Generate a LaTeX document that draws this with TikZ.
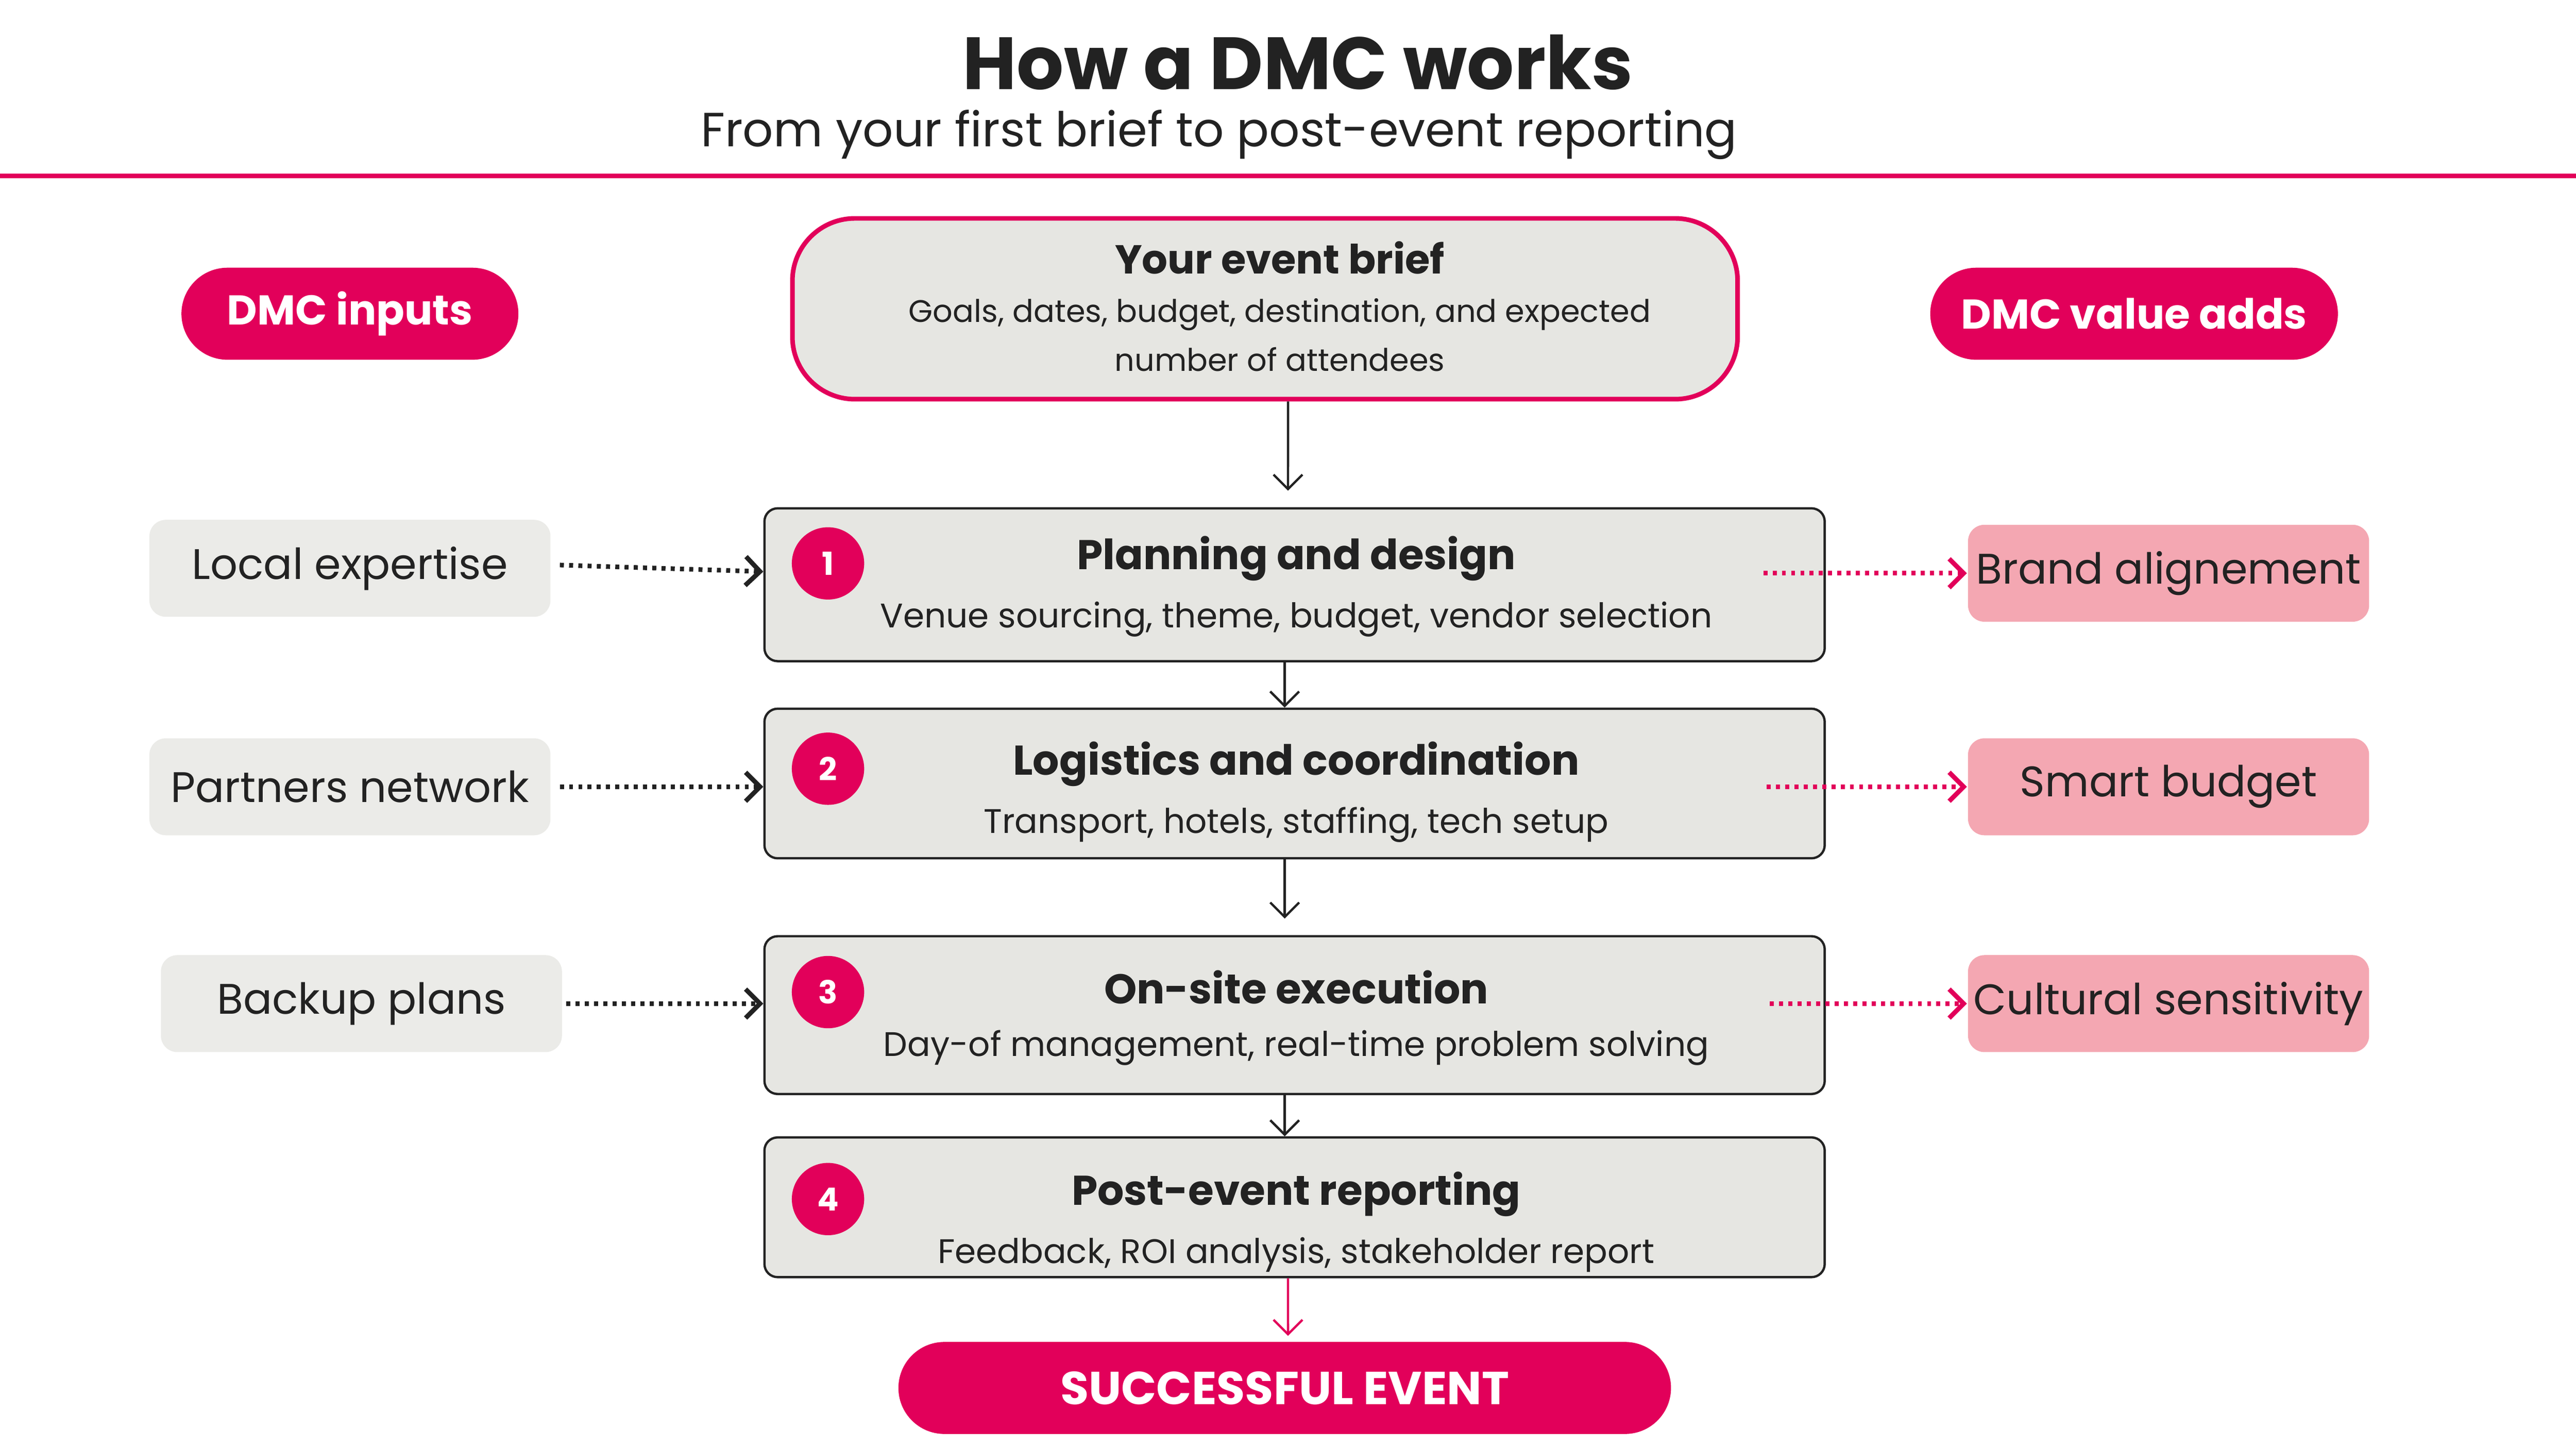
\documentclass[tikz,border=0pt]{standalone}
\usepackage{fontspec}
\setmainfont{Poppins}
\usetikzlibrary{arrows.meta,positioning}
\definecolor{dmcred}{HTML}{E2005A}
\definecolor{dmcgray}{HTML}{E6E6E2}
\definecolor{dmclight}{HTML}{EBEBE8}
\definecolor{dmcpink}{HTML}{F4A7B2}
\definecolor{dmcdark}{HTML}{222222}
\begin{document}
\begin{tikzpicture}[x=0.01cm,y=-0.01cm]
        \tikzstyle{stage}=[draw=dmcdark,fill=dmcgray,rounded corners=0.08cm,minimum width=6.45cm,inner sep=0]
        \tikzstyle{num}=[circle,fill=dmcred,text=white,font=\fontsize{5.5}{6}\selectfont\bfseries,minimum size=0.44cm,inner sep=0]
        \tikzstyle{pill}=[fill=dmcred,text=white,rounded corners=0.28cm,font=\fontsize{7.2}{8}\selectfont\bfseries,minimum height=0.56cm,inner sep=0]
        \tikzstyle{input}=[fill=dmclight,rounded corners=0.1cm,minimum width=2.44cm,minimum height=0.59cm,font=\fontsize{7.4}{8}\selectfont,text=dmcdark,inner sep=0]
        \tikzstyle{value}=[input,fill=dmcpink]
        \tikzstyle{flow}=[draw=dmcdark,-{Straight Barb[length=2.5pt]},thin]
        \tikzstyle{feed}=[draw=dmcdark,thick,dash pattern=on 0.7pt off 0.9pt,-{Straight Barb[length=2.5pt]}]
        \useasboundingbox (0,0) rectangle (1568,882);
        % header
        \node[font=\fontsize{12.8}{15}\selectfont\bfseries,text=dmcdark] (title) at (790,38) {How a DMC works};
        \node[font=\fontsize{8.3}{9}\selectfont,text=dmcdark] (subtitle) at (742,82) {From your first brief to post-event reporting};
        \draw[dmcred,thick] (0,107) -- (1568,107);
        % brief
        \node[draw=dmcred,thick,fill=dmcgray,rounded corners=0.38cm,minimum width=5.75cm,minimum height=1.1cm,inner sep=0] (brief) at (770,188) {};
        \node[font=\fontsize{7}{8}\selectfont\bfseries,text=dmcdark] at (779,157) {Your event brief};
        \node[font=\fontsize{5.4}{8.5}\selectfont,text=dmcdark,align=center] at (779,204) {Goals, dates, budget, destination, and expected\\number of attendees};
        \node[pill,minimum width=2.05cm] (inputs) at (213,191) {DMC inputs};
        \node[pill,minimum width=2.48cm] (values) at (1299,191) {DMC value adds};
        % stages
        \node[stage,minimum height=0.93cm] (s1) at (788,356) {};
        \node[stage,minimum height=0.91cm] (s2) at (788,477) {};
        \node[stage,minimum height=0.96cm] (s3) at (788,618) {};
        \node[stage,minimum height=0.85cm] (s4) at (788,735) {};
        \foreach \n/\y/\t/\d in {1/343/Planning and design/{Venue sourcing, theme, budget, vendor selection},
                                 2/468/Logistics and coordination/{Transport, hotels, staffing, tech setup},
                                 3/604/On-site execution/{Day-of management, real-time problem solving},
                                 4/730/Post-event reporting/{Feedback, ROI analysis, stakeholder report}} {
          \node[num] (n\n) at (504,\y) {\n};
          \node[font=\fontsize{7.2}{8}\selectfont\bfseries,text=dmcdark] at (789,\y-3) {\t};
          \node[font=\fontsize{5.9}{7}\selectfont,text=dmcdark] at (789,\y+34) {\d};
        }
        \node[pill,minimum width=4.7cm,font=\fontsize{8}{9}\selectfont\bfseries] (success) at (782,845) {SUCCESSFUL EVENT};
        % side boxes
        \node[input] (local) at (213,346) {Local expertise};
        \node[input] (partners) at (213,479) {Partners network};
        \node[input] (backup) at (220,611) {Backup plans};
        \node[value] (brand) at (1320,349) {Brand alignement};
        \node[value] (budget) at (1320,479) {Smart budget};
        \node[value] (culture) at (1320,611) {Cultural sensitivity};
        % connectors
        \draw[flow] ([xshift=0.14cm]brief.south) -- ([xshift=-0.04cm,yshift=0.1cm]s1.north);
        \draw[flow] ([xshift=-0.06cm]s1.south) -- ([xshift=-0.06cm]s2.north);
        \draw[flow] ([xshift=-0.06cm]s2.south) -- ([xshift=-0.06cm,yshift=0.1cm]s3.north);
        \draw[flow] ([xshift=-0.06cm]s3.south) -- ([xshift=-0.06cm]s4.north);
        \draw[flow,draw=dmcred] ([xshift=-0.04cm]s4.south) -- ([xshift=0.02cm,yshift=0.03cm]success.north);
        \draw[feed] ([xshift=0.05cm,yshift=0.02cm]local.east) -- (s1.west |- 0,348);
        \draw[feed] ([xshift=0.05cm]partners.east) -- (s2.west |- partners.east);
        \draw[feed] ([xshift=0.02cm]backup.east) -- (s3.west |- backup.east);
        \draw[feed,draw=dmcred] ([xshift=-0.38cm]s1.east |- brand.west) -- (brand.west);
        \draw[feed,draw=dmcred] ([xshift=-0.36cm]s2.east |- budget.west) -- (budget.west);
        \draw[feed,draw=dmcred] ([xshift=-0.34cm]s3.east |- culture.west) -- (culture.west);
\end{tikzpicture}
\end{document}
